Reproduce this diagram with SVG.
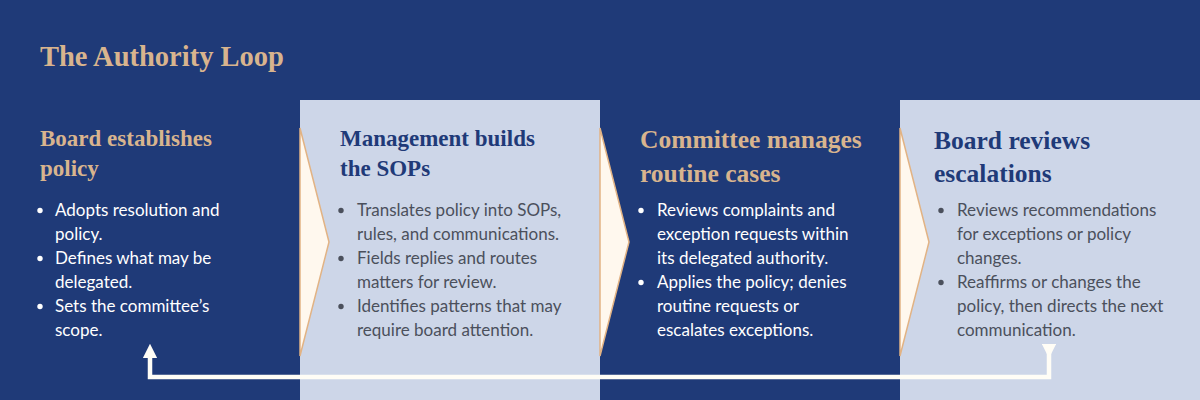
<svg xmlns="http://www.w3.org/2000/svg" width="1200" height="400" viewBox="0 0 1200 400">
<style>
.title{font-family:"Liberation Serif",serif;font-weight:bold;font-size:28.5px;fill:#d8b48e}
.hd{font-family:"Liberation Serif",serif;font-weight:bold;font-size:23px}
.hd2{font-family:"Liberation Serif",serif;font-weight:bold;font-size:25.5px}
.tan{fill:#d8b48e}
.navy{fill:#1f3a78}
.bd{font-family:Lato,"Liberation Sans",sans-serif;font-size:17px}
.wt{fill:#ffffff}
.gy{fill:#4b505c}
.chev{fill:#fff8ee;stroke:#e2b384;stroke-width:1.5}
.conn{fill:none;stroke:#fffdf6;stroke-width:4.5}
</style>
<defs>
<marker id="ah" viewBox="0 0 10 10" refX="5" refY="5" markerWidth="3.2" markerHeight="3.2" orient="auto" markerUnits="strokeWidth">
<path d="M0,0 L10,5 L0,10 Z" fill="#fffdf6"/>
</marker>
</defs>
<rect x="0" y="0" width="1200" height="400" fill="#1f3a78"/>
<text class="title" x="40" y="66">The Authority Loop</text>

<g id="step1">
<text class="hd tan" x="40" y="146">Board establishes</text>
<text class="hd tan" x="40" y="176">policy</text>
<g class="bd wt">
<circle cx="40" cy="210.5" r="2.7" fill="#ffffff"/>
<text x="55" y="216">Adopts resolution and</text>
<text x="55" y="240">policy.</text>
<circle cx="40" cy="258.5" r="2.7" fill="#ffffff"/>
<text x="55" y="264">Defines what may be</text>
<text x="55" y="288">delegated.</text>
<circle cx="40" cy="306.5" r="2.7" fill="#ffffff"/>
<text x="55" y="312">Sets the committee’s</text>
<text x="55" y="336">scope.</text>
</g>
</g>

<g id="step2">
<rect x="300" y="100" width="300" height="300" fill="#cdd6e8"/>
<polygon class="chev" points="300,128 329,242 300,356"/>
<text class="hd navy" x="340" y="146">Management builds</text>
<text class="hd navy" x="340" y="176">the SOPs</text>
<g class="bd gy">
<circle cx="341" cy="210.5" r="2.7" fill="#4b505c"/>
<text x="357" y="216">Translates policy into SOPs,</text>
<text x="357" y="240">rules, and communications.</text>
<circle cx="341" cy="258.5" r="2.7" fill="#4b505c"/>
<text x="357" y="264">Fields replies and routes</text>
<text x="357" y="288">matters for review.</text>
<circle cx="341" cy="306.5" r="2.7" fill="#4b505c"/>
<text x="357" y="312">Identifies patterns that may</text>
<text x="357" y="336">require board attention.</text>
</g>
</g>

<g id="step3">
<polygon class="chev" points="600,128 629,242 600,356"/>
<text class="hd2 tan" x="640" y="148">Committee manages</text>
<text class="hd2 tan" x="640" y="182">routine cases</text>
<g class="bd wt">
<circle cx="641" cy="210.5" r="2.7" fill="#ffffff"/>
<text x="657" y="216">Reviews complaints and</text>
<text x="657" y="240">exception requests within</text>
<text x="657" y="264">its delegated authority.</text>
<circle cx="641" cy="282.5" r="2.7" fill="#ffffff"/>
<text x="657" y="288">Applies the policy; denies</text>
<text x="657" y="312">routine requests or</text>
<text x="657" y="336">escalates exceptions.</text>
</g>
</g>

<g id="step4">
<rect x="900" y="100" width="300" height="300" fill="#cdd6e8"/>
<polygon class="chev" points="900,128 929,242 900,356"/>
<text class="hd2 navy" x="934" y="149">Board reviews</text>
<text class="hd2 navy" x="934" y="182">escalations</text>
<g class="bd gy">
<circle cx="941" cy="210.5" r="2.7" fill="#4b505c"/>
<text x="957" y="216">Reviews recommendations</text>
<text x="957" y="240">for exceptions or policy</text>
<text x="957" y="264">changes.</text>
<circle cx="941" cy="282.5" r="2.7" fill="#4b505c"/>
<text x="957" y="288">Reaffirms or changes the</text>
<text x="957" y="312">policy, then directs the next</text>
<text x="957" y="336">communication.</text>
</g>
</g>

<g id="connectors">
<path class="conn" d="M1049,351 L1049,377 L150,377 L150,351" marker-start="url(#ah)" marker-end="url(#ah)"/>
</g>
</svg>
